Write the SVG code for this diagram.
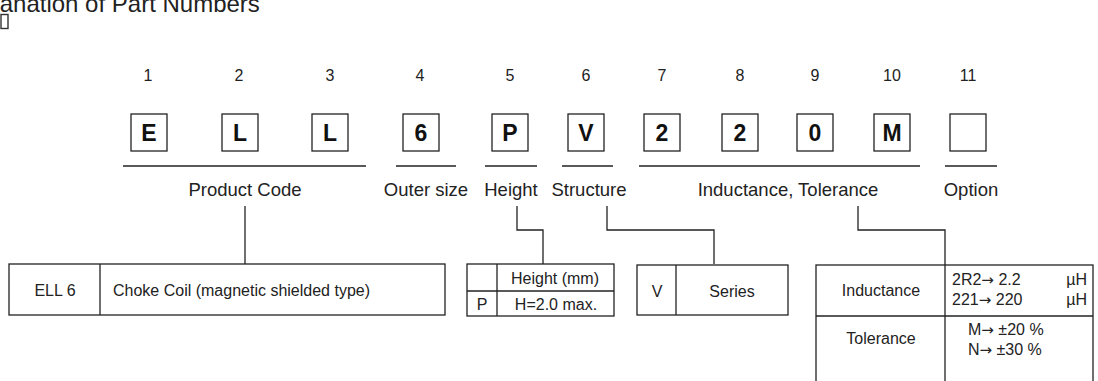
<svg xmlns="http://www.w3.org/2000/svg" width="1098" height="381" viewBox="0 0 1098 381">
<style>
text{font-family:"Liberation Sans",Arial,sans-serif;fill:#222}
.num{font-size:16px;text-anchor:middle}
.let{font-size:23px;font-weight:bold;text-anchor:middle;fill:#111}
.lab{font-size:18.5px;text-anchor:middle}
.cell{font-size:16px}
.mid{text-anchor:middle}
.ar{font-family:"DejaVu Sans",sans-serif;font-size:15px}
.box{fill:#fff;stroke:#222;stroke-width:1.3}
.ln{stroke:#222;stroke-width:1.3;fill:none}
</style>
<rect width="1098" height="381" fill="#fff"/>
<g id="title">
<text x="-47" y="12" style="font-size:24px">Explanation of Part Numbers</text>
<rect x="1" y="14.5" width="7" height="14" fill="none" stroke="#333" stroke-width="1.4"/>
</g>
<g id="digits">
<g id="d1"><text class="num" x="148" y="81">1</text><rect class="box" x="131" y="114" width="36" height="37"/><text class="let" x="149" y="141">E</text></g>
<g id="d2"><text class="num" x="239" y="81">2</text><rect class="box" x="222" y="114" width="36" height="37"/><text class="let" x="240" y="141">L</text></g>
<g id="d3"><text class="num" x="330" y="81">3</text><rect class="box" x="312" y="114" width="36" height="37"/><text class="let" x="330" y="141">L</text></g>
<g id="d4"><text class="num" x="420" y="81">4</text><rect class="box" x="403" y="114" width="36" height="37"/><text class="let" x="421" y="141">6</text></g>
<g id="d5"><text class="num" x="510" y="81">5</text><rect class="box" x="492" y="114" width="36" height="37"/><text class="let" x="510" y="141">P</text></g>
<g id="d6"><text class="num" x="586" y="81">6</text><rect class="box" x="568" y="114" width="36" height="37"/><text class="let" x="586" y="141">V</text></g>
<g id="d7"><text class="num" x="662" y="81">7</text><rect class="box" x="644" y="114" width="36" height="37"/><text class="let" x="662" y="141">2</text></g>
<g id="d8"><text class="num" x="740" y="81">8</text><rect class="box" x="722" y="114" width="36" height="37"/><text class="let" x="740" y="141">2</text></g>
<g id="d9"><text class="num" x="815" y="81">9</text><rect class="box" x="797" y="114" width="36" height="37"/><text class="let" x="815" y="141">0</text></g>
<g id="d10"><text class="num" x="892" y="81">10</text><rect class="box" x="874" y="114" width="36" height="37"/><text class="let" x="892" y="141">M</text></g>
<g id="d11"><text class="num" x="968" y="81">11</text><rect class="box" x="950" y="114" width="36" height="37"/></g>
</g>
<g id="groups">
<line class="ln" x1="123" y1="166" x2="366" y2="166"/><text class="lab" x="245" y="196">Product Code</text>
<line class="ln" x1="396" y1="166" x2="456" y2="166"/><text class="lab" x="426" y="196">Outer size</text>
<line class="ln" x1="485" y1="166" x2="537" y2="166"/><text class="lab" x="511" y="196">Height</text>
<line class="ln" x1="562" y1="166" x2="613" y2="166"/><text class="lab" x="589" y="196">Structure</text>
<line class="ln" x1="639" y1="166" x2="920" y2="166"/><text class="lab" x="788" y="196">Inductance, Tolerance</text>
<line class="ln" x1="945" y1="166" x2="997" y2="166"/><text class="lab" x="971" y="196">Option</text>
</g>
<g id="connectors">
<polyline class="ln" points="245,206 245,264"/>
<polyline class="ln" points="517,206 517,230 543,230 543,264"/>
<polyline class="ln" points="607,206 607,230 714,230 714,264"/>
<polyline class="ln" points="858,206 858,230 945,230 945,265"/>
</g>
<g id="product-table">
<rect class="box" x="9" y="264" width="436" height="51"/>
<line class="ln" x1="100" y1="264" x2="100" y2="315"/>
<text class="cell mid" x="55" y="296">ELL 6</text>
<text class="cell" x="113" y="296">Choke Coil (magnetic shielded type)</text>
</g>
<g id="height-table">
<rect class="box" x="467" y="264" width="147" height="52"/>
<line class="ln" x1="497" y1="264" x2="497" y2="316"/>
<line class="ln" x1="467" y1="291" x2="614" y2="291"/>
<text class="cell mid" x="555" y="284">Height (mm)</text>
<text class="cell mid" x="482" y="310">P</text>
<text class="cell mid" x="556" y="310">H=2.0 max.</text>
</g>
<g id="structure-table">
<rect class="box" x="637" y="265" width="151" height="50"/>
<line class="ln" x1="676" y1="265" x2="676" y2="315"/>
<text class="cell mid" x="657" y="297">V</text>
<text class="cell mid" x="732" y="297">Series</text>
</g>
<g id="inductance-table">
<rect class="box" x="816" y="265" width="277" height="120"/>
<line class="ln" x1="945" y1="265" x2="945" y2="385"/>
<line class="ln" x1="816" y1="316" x2="1093" y2="316"/>
<text class="cell mid" x="881" y="296">Inductance</text>
<text class="cell"><tspan x="952" y="285">2R2</tspan><tspan class="ar">→</tspan><tspan> 2.2</tspan><tspan x="1087" y="285" text-anchor="end">µH</tspan></text>
<text class="cell"><tspan x="952" y="305">221</tspan><tspan class="ar">→</tspan><tspan> 220</tspan><tspan x="1087" y="305" text-anchor="end">µH</tspan></text>
<text class="cell mid" x="881" y="344">Tolerance</text>
<text class="cell"><tspan x="968" y="335">M</tspan><tspan class="ar">→</tspan><tspan> ±20 %</tspan></text>
<text class="cell"><tspan x="968" y="355">N</tspan><tspan class="ar">→</tspan><tspan> ±30 %</tspan></text>
</g>
</svg>
